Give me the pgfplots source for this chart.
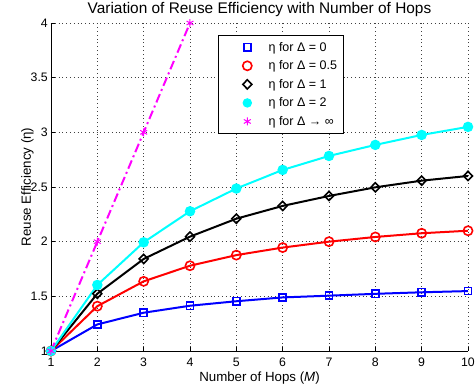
\documentclass[border=0pt]{standalone}
\usepackage{fontspec}
\setmainfont{Liberation Sans}
\usepackage{pgfplots}
\pgfplotsset{compat=1.18}
\definecolor{mcyan}{rgb}{0,1,1}
\definecolor{mmag}{rgb}{1,0,1}
\definecolor{mblue}{rgb}{0,0,1}
\definecolor{mred}{rgb}{1,0,0}
\begin{document}
\begin{tikzpicture}
\begin{axis}[
  scale only axis, width=417pt, height=328pt,
  xmin=1, xmax=10, ymin=1, ymax=4,
  xtick={1,2,...,10}, ytick={1,1.5,2,2.5,3,3.5,4},
  axis x line*=bottom, axis y line*=left,
  axis line style={line width=0.8pt, black},
  tick align=inside, major tick length=4pt,
  tick style={line width=0.6pt, black},
  grid=major, grid style={dash pattern=on 0.8pt off 3pt, black!75, line width=0.6pt},
  /pgf/number format/assume math mode=true,
  ticklabel style={font=\fontsize{12.3}{14}\selectfont},
  xticklabel style={anchor=base, yshift=-16pt},
  yticklabel style={anchor=east, inner sep=0pt, xshift=-3pt},
  title={Variation of Reuse Efficiency with Number of Hops},
  title style={at={(axis description cs:0.5,1)}, anchor=base, yshift=4pt, font=\fontsize{15.4}{17}\selectfont},
  xlabel={Number of Hops (\textit{M})},
  xlabel style={at={(axis description cs:0.5,0)}, anchor=base, yshift=-31pt, font=\fontsize{13.3}{15}\selectfont},
  ylabel={Reuse Efficiency (η)},
  ylabel style={at={(axis description cs:-0.0480,0.5)}, anchor=base, font=\fontsize{13.3}{15}\selectfont},
  clip=false,
  legend image code/.code={\draw[#1] plot[only marks] coordinates {(24.5pt,0pt)}; \path (0pt,0pt) (43pt,0pt);},
  legend cell align=left,
  legend style={at={(axis description cs:0.3993,0.9634)}, anchor=north west, draw=black, line width=1pt, fill=white,
    inner xsep=4pt, inner ysep=4.5pt, font=\fontsize{12.5}{14}\selectfont, row sep=4pt},
]
\addplot[mblue, line width=2pt, mark=square, mark size=3.6pt, mark options={solid, line width=1.6pt}, forget plot] coordinates {
 (1,1) (2,1.243) (3,1.350) (4,1.414) (5,1.455) (6,1.490) (7,1.506) (8,1.523) (9,1.537) (10,1.548)};
\addplot[mred, line width=2pt, mark=o, mark size=4.6pt, mark options={solid, line width=1.6pt}, forget plot] coordinates {
 (1,1) (2,1.410) (3,1.637) (4,1.780) (5,1.877) (6,1.946) (7,2.000) (8,2.043) (9,2.077) (10,2.100)};
\addplot[black, line width=2pt, mark=diamond, mark size=4.6pt, mark options={solid, line width=1.6pt, xscale=1.3}, forget plot] coordinates {
 (1,1) (2,1.524) (3,1.842) (4,2.046) (5,2.210) (6,2.327) (7,2.418) (8,2.497) (9,2.558) (10,2.601)};
\addplot[mcyan, line width=2pt, mark=*, mark size=4.2pt, mark options={solid, fill=mcyan, draw=mcyan}, forget plot] coordinates {
 (1,1) (2,1.604) (3,1.994) (4,2.278) (5,2.486) (6,2.656) (7,2.784) (8,2.885) (9,2.976) (10,3.050)};
\addplot[mmag, line width=2pt, dash pattern=on 9pt off 3.5pt on 2pt off 3.5pt, mark=asterisk, mark size=4pt, mark options={solid, line width=1pt}, forget plot] coordinates {
 (1,1) (2,2) (3,3) (4,4)};
\addlegendimage{mblue, mark=square, mark size=3.6pt, line width=1.6pt}
\addlegendentry{η for Δ = 0}
\addlegendimage{mred, mark=o, mark size=4.6pt, line width=1.6pt}
\addlegendentry{η for Δ = 0.5}
\addlegendimage{black, mark=diamond, mark size=4.6pt, line width=1.6pt, mark options={xscale=1.3}}
\addlegendentry{η for Δ = 1}
\addlegendimage{mcyan, mark=*, mark size=4.2pt, mark options={fill=mcyan, draw=mcyan}}
\addlegendentry{η for Δ = 2}
\addlegendimage{mmag, mark=asterisk, mark size=4pt, line width=1pt}
\addlegendentry{η for Δ → ∞}
\end{axis}
\pgfresetboundingbox
\path (-51pt,-40pt) rectangle (424pt,351pt);
\end{tikzpicture}
\end{document}
